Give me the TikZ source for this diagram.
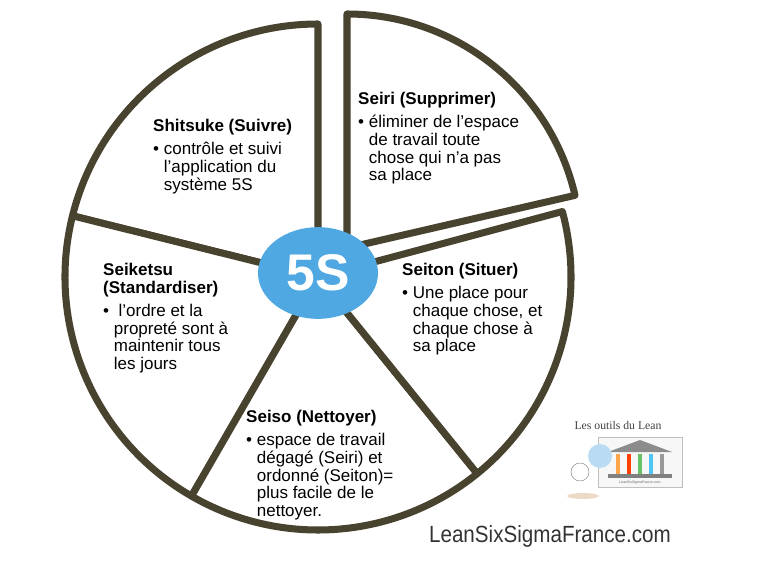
\documentclass[tikz,border=0pt]{standalone}
\usepackage{fontspec}
\usetikzlibrary{shapes.geometric}
\setmainfont{Liberation Sans}
\newfontfamily\logofont{Liberation Serif}
\definecolor{rim}{HTML}{48432F}
\definecolor{hub}{HTML}{4FA8E2}

\begin{document}
\begin{tikzpicture}[%
	x=0.03cm, y=0.03cm,%
	wedge/.style ={draw=rim, line width=6pt, fill=white, line join=round},%
	body/.style ={anchor=north west, align=left, inner sep=0pt, font=\fontsize{14.5}{15.3}\selectfont},%
	]
\useasboundingbox (0,0) rectangle (762,582);
%%% wedges
	\coordinate (c) at (318,305);
	\coordinate (cr) at (347,334);
	\foreach \a/\b in {90/166,166/240,240/309,309/375}
		{\draw [wedge] (c) -- ++(\a:253) arc [start angle=\a, end angle=\b, radius=253] -- cycle;}
	\draw [wedge] (cr) -- ++(13:234) arc [start angle=13, end angle=90, radius=234] -- cycle;
%%% wedges
%%% hub
	\node [fill=hub, ellipse, minimum width=3.6cm, minimum height=2.75cm, inner sep=0pt] (hub) at (318,309)
		{\fontsize{44}{44}\selectfont\bfseries\color{white}5S};
%%% hub
%%%% texts
	\node [body] (seiri) at (358,490) {\textbf{Seiri (Supprimer)}\\[4pt]
		\textbullet\ éliminer de l'espace\\\phantom{\textbullet\ }de travail toute\\\phantom{\textbullet\ }chose qui n'a pas\\\phantom{\textbullet\ }sa place};
	\node [body] (shitsuke) at (153,463) {\textbf{Shitsuke (Suivre)}\\[4pt]
		\textbullet\ contrôle et suivi\\\phantom{\textbullet\ }l'application du\\\phantom{\textbullet\ }système 5S};
	\node [body] (seiketsu) at (103,319) {\textbf{Seiketsu}\\\textbf{(Standardiser)}\\[4pt]
		\textbullet\ \ l'ordre et la\\\phantom{\textbullet\ }propreté sont à\\\phantom{\textbullet\ }maintenir tous\\\phantom{\textbullet\ }les jours};
	\node [body] (seiton) at (402,319) {\textbf{Seiton (Situer)}\\[4pt]
		\textbullet\ Une place pour\\\phantom{\textbullet\ }chaque chose, et\\\phantom{\textbullet\ }chaque chose à\\\phantom{\textbullet\ }sa place};
	\node [body] (seiso) at (246,172) {\textbf{Seiso (Nettoyer)}\\[4pt]
		\textbullet\ espace de travail\\\phantom{\textbullet\ }dégagé (Seiri) et\\\phantom{\textbullet\ }ordonné (Seiton)=\\\phantom{\textbullet\ }plus facile de le\\\phantom{\textbullet\ }nettoyer.};
%%%% texts
%%%% logo
	\node [font=\logofont\fontsize{10}{12}\selectfont, text=black!75] (outils) at (618,157) {Les outils du Lean};
	\draw [black!25, fill=black!3] (598,145) rectangle (682,95);
	\fill [black!45] (608,130) -- (640,142) -- (672,130) -- cycle;
	\foreach \x/\col in {618/orange!70,629/orange!50!red,640/green!60!black!60,651/cyan!70,662/black!40}
		{\fill [\col] (\x-2,128) rectangle (\x+2,108);}
	\fill [black!50] (608,108) rectangle (672,104);
	\node [font=\fontsize{3}{3}\selectfont, text=black!60] (small) at (640,99) {LeanSixSigmaFrance.com};
	\fill [hub!40] (600,126) circle [radius=12];
	\draw [black!50] (580,110) circle [radius=9];
	\fill [brown!30] (583,86) ellipse [x radius=16, y radius=3];
	\node [font=\fontsize{20}{21}\selectfont, text=black!80, xscale=0.88] (site) at (550,46) {LeanSixSigmaFrance.com};
%%%% logo
\end{tikzpicture}
\end{document}
